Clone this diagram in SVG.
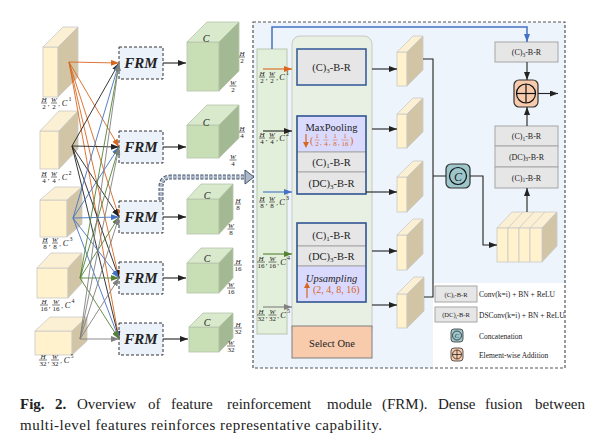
<svg xmlns="http://www.w3.org/2000/svg" width="599" height="440" viewBox="0 0 599 440">
<style>
text{font-family:"Liberation Serif","Times New Roman",serif;fill:#222}
.fr{font-size:7px;font-style:italic;text-anchor:middle}
.frn{font-size:7px;text-anchor:middle}
.cc{font-size:8.5px;font-style:italic;text-anchor:middle}
.sup{font-size:6px;text-anchor:middle}
.gc{font-size:10px;font-style:italic;text-anchor:middle}
.bar{stroke:#222;stroke-width:0.6}
.bfront{fill:#FFF2CC;stroke:#C9C9C9;stroke-width:0.8}
.btop{fill:#FCF0D4;stroke:#C9C9C9;stroke-width:0.8}
.bside{fill:#D1C5A5;stroke:#C9C9C9;stroke-width:0.8}
.gfront{fill:#C8DFB6;stroke:#B5C4AA;stroke-width:0.8}
.gtop{fill:#D8E9CC;stroke:#B5C4AA;stroke-width:0.8}
.gside{fill:#A3B993;stroke:#B5C4AA;stroke-width:0.8}
.frm{fill:#EBF2FA;stroke:#333;stroke-width:1;stroke-dasharray:3,2}
.frmt{font-size:15px;font-weight:bold;font-style:italic;text-anchor:middle}
.box{fill:#E7E6E6;stroke:#A6A6A6;stroke-width:1}
.lav{fill:#DADAFE;stroke:#A6A6A6;stroke-width:1}
.bt{font-size:10.5px;text-anchor:middle}
.st{font-size:8px;text-anchor:middle}
.lt{font-size:7.5px}
.of{font-size:7px;text-anchor:middle;fill:#D9661F}
.or{fill:#D9661F}
</style>
<defs>
<marker id="mk" markerUnits="userSpaceOnUse" markerWidth="8" markerHeight="6" refX="8" refY="3" orient="auto"><path d="M0,0 L8,3 L0,6 z" fill="#222"/></marker>
<marker id="mo" markerUnits="userSpaceOnUse" markerWidth="8" markerHeight="6" refX="8" refY="3" orient="auto"><path d="M0,0 L8,3 L0,6 z" fill="#D9661F"/></marker>
<marker id="mb" markerUnits="userSpaceOnUse" markerWidth="8" markerHeight="6" refX="8" refY="3" orient="auto"><path d="M0,0 L8,3 L0,6 z" fill="#4472C4"/></marker>
<marker id="mg" markerUnits="userSpaceOnUse" markerWidth="8" markerHeight="6" refX="8" refY="3" orient="auto"><path d="M0,0 L8,3 L0,6 z" fill="#548235"/></marker>
<marker id="my" markerUnits="userSpaceOnUse" markerWidth="8" markerHeight="6" refX="8" refY="3" orient="auto"><path d="M0,0 L8,3 L0,6 z" fill="#808080"/></marker>
</defs>
<rect width="599" height="440" fill="#fff"/>

<g id="module-box">
<rect x="253" y="22" width="312" height="346" fill="#EEF4FB"/>
<rect x="433" y="283" width="132" height="85" fill="#fff"/>
<rect x="253" y="22" width="312" height="346" fill="none" stroke="#555" stroke-width="1.2" stroke-dasharray="3,2"/>
</g>

<g id="in1">
<rect class="bfront" x="43" y="47" width="15" height="50"/>
<polygon class="btop" points="43,47 63,27 78,27 58,47"/>
<polygon class="bside" points="58,47 78,27 78,77 58,97"/>
<g transform="translate(44,103)"><text class="fr" y="-1.5">H</text><line class="bar" x1="-3" x2="3"/><text class="frn" y="5.8">2</text><text class="frn" x="4.5" y="3">,</text><text class="fr" x="10" y="-1.5">W</text><line class="bar" x1="7" x2="13"/><text class="frn" x="10" y="5.8">2</text><text class="frn" x="15" y="3">,</text><text class="cc" x="20.5" y="3">C</text><text class="sup" x="26" y="-2">1</text></g>
</g>
<g id="in2">
<rect class="bfront" x="40" y="131" width="19" height="38"/>
<polygon class="btop" points="40,131 59,111 78,111 59,131"/>
<polygon class="bside" points="59,131 78,111 78,149 59,169"/>
<g transform="translate(44,177)"><text class="fr" y="-1.5">H</text><line class="bar" x1="-3" x2="3"/><text class="frn" y="5.8">4</text><text class="frn" x="4.5" y="3">,</text><text class="fr" x="10" y="-1.5">W</text><line class="bar" x1="7" x2="13"/><text class="frn" x="10" y="5.8">4</text><text class="frn" x="15" y="3">,</text><text class="cc" x="20.5" y="3">C</text><text class="sup" x="26" y="-2">2</text></g>
</g>
<g id="in3">
<rect class="bfront" x="40" y="200" width="27" height="37"/>
<polygon class="btop" points="40,200 55,187 82,187 67,200"/>
<polygon class="bside" points="67,200 82,187 82,224 67,237"/>
<g transform="translate(45,243)"><text class="fr" y="-1.5">H</text><line class="bar" x1="-3" x2="3"/><text class="frn" y="5.8">8</text><text class="frn" x="4.5" y="3">,</text><text class="fr" x="10" y="-1.5">W</text><line class="bar" x1="7" x2="13"/><text class="frn" x="10" y="5.8">8</text><text class="frn" x="15" y="3">,</text><text class="cc" x="20.5" y="3">C</text><text class="sup" x="26" y="-2">3</text></g>
</g>
<g id="in4">
<rect class="bfront" x="37" y="268" width="31" height="30"/>
<polygon class="btop" points="37,268 51,253 82,253 68,268"/>
<polygon class="bside" points="68,268 82,253 82,283 68,298"/>
<g transform="translate(44,305)"><text class="fr" y="-1.5">H</text><line class="bar" x1="-4" x2="4"/><text class="frn" y="5.8">16</text><text class="frn" x="5.5" y="3">,</text><text class="fr" x="12" y="-1.5">W</text><line class="bar" x1="8" x2="16"/><text class="frn" x="12" y="5.8">16</text><text class="frn" x="18" y="3">,</text><text class="cc" x="23.5" y="3">C</text><text class="sup" x="29" y="-2">4</text></g>
</g>
<g id="in5">
<rect class="bfront" x="35" y="331" width="37" height="24"/>
<polygon class="btop" points="35,331 50,317 87,317 72,331"/>
<polygon class="bside" points="72,331 87,317 87,341 72,355"/>
<g transform="translate(43,360)"><text class="fr" y="-1.5">H</text><line class="bar" x1="-4" x2="4"/><text class="frn" y="5.8">32</text><text class="frn" x="5.5" y="3">,</text><text class="fr" x="12" y="-1.5">W</text><line class="bar" x1="8" x2="16"/><text class="frn" x="12" y="5.8">32</text><text class="frn" x="18" y="3">,</text><text class="cc" x="23.5" y="3">C</text><text class="sup" x="29" y="-2">5</text></g>
</g>

<g id="frm1"><rect class="frm" x="119" y="47" width="44" height="32"/><text class="frmt" x="141" y="68">FRM</text></g>
<g id="frm2"><rect class="frm" x="119" y="131" width="44" height="32"/><text class="frmt" x="141" y="152">FRM</text></g>
<g id="frm3"><rect class="frm" x="119" y="201" width="44" height="32"/><text class="frmt" x="141" y="222">FRM</text></g>
<g id="frm4"><rect class="frm" x="119" y="262" width="44" height="32"/><text class="frmt" x="141" y="283">FRM</text></g>
<g id="frm5"><rect class="frm" x="119" y="323" width="44" height="32"/><text class="frmt" x="141" y="344">FRM</text></g>

<g id="out1">
<rect class="gfront" x="187" y="42" width="32" height="49"/>
<polygon class="gtop" points="187,42 207,22 239,22 219,42"/>
<polygon class="gside" points="219,42 239,22 239,71 219,91"/>
<text class="gc" x="206" y="42">C</text>
<g transform="translate(242,57)"><text class="fr" y="-1.5">H</text><line class="bar" x1="-3" x2="3"/><text class="frn" y="5.8">2</text></g>
<g transform="translate(233,86)"><text class="fr" y="-1.5">W</text><line class="bar" x1="-3.5" x2="3.5"/><text class="frn" y="5.8">2</text></g>
</g>
<g id="out2">
<rect class="gfront" x="187" y="125" width="32" height="33"/>
<polygon class="gtop" points="187,125 207,105 239,105 219,125"/>
<polygon class="gside" points="219,125 239,105 239,138 219,158"/>
<text class="gc" x="206" y="126">C</text>
<g transform="translate(242,132)"><text class="fr" y="-1.5">H</text><line class="bar" x1="-3" x2="3"/><text class="frn" y="5.8">4</text></g>
<g transform="translate(233,160)"><text class="fr" y="-1.5">W</text><line class="bar" x1="-3.5" x2="3.5"/><text class="frn" y="5.8">4</text></g>
</g>
<g id="out3">
<rect class="gfront" x="187" y="199" width="32" height="35"/>
<polygon class="gtop" points="187,199 201,184 233,184 219,199"/>
<polygon class="gside" points="219,199 233,184 233,219 219,234"/>
<text class="gc" x="207" y="199">C</text>
<g transform="translate(238,204)"><text class="fr" y="-1.5">H</text><line class="bar" x1="-3" x2="3"/><text class="frn" y="5.8">8</text></g>
<g transform="translate(231,229)"><text class="fr" y="-1.5">W</text><line class="bar" x1="-3.5" x2="3.5"/><text class="frn" y="5.8">8</text></g>
</g>
<g id="out4">
<rect class="gfront" x="187" y="263" width="32" height="30"/>
<polygon class="gtop" points="187,263 201,248 233,248 219,263"/>
<polygon class="gside" points="219,263 233,248 233,278 219,293"/>
<text class="gc" x="207" y="262">C</text>
<g transform="translate(238,265)"><text class="fr" y="-1.5">H</text><line class="bar" x1="-4" x2="4"/><text class="frn" y="5.8">16</text></g>
<g transform="translate(231,288)"><text class="fr" y="-1.5">W</text><line class="bar" x1="-4" x2="4"/><text class="frn" y="5.8">16</text></g>
</g>
<g id="out5">
<rect class="gfront" x="189" y="327" width="30" height="25"/>
<polygon class="gtop" points="189,327 203,313 233,313 219,327"/>
<polygon class="gside" points="219,327 233,313 233,338 219,352"/>
<text class="gc" x="207" y="326">C</text>
<g transform="translate(238,328)"><text class="fr" y="-1.5">H</text><line class="bar" x1="-4" x2="4"/><text class="frn" y="5.8">32</text></g>
<g transform="translate(231,346)"><text class="fr" y="-1.5">W</text><line class="bar" x1="-4" x2="4"/><text class="frn" y="5.8">32</text></g>
</g>

<g id="input-column">
<rect x="257" y="49" width="30" height="285" fill="#E2EFDA" stroke="#B8C6B0" stroke-width="1"/>
<g transform="translate(262,77)"><text class="fr" y="-1.5">H</text><line class="bar" x1="-3" x2="3"/><text class="frn" y="5.8">2</text><text class="frn" x="4.5" y="3">,</text><text class="fr" x="10" y="-1.5">W</text><line class="bar" x1="7" x2="13"/><text class="frn" x="10" y="5.8">2</text><text class="frn" x="15" y="3">,</text><text class="cc" x="20" y="3">C</text><text class="sup" x="25.5" y="-2">1</text></g>
<g transform="translate(262,138)"><text class="fr" y="-1.5">H</text><line class="bar" x1="-3" x2="3"/><text class="frn" y="5.8">4</text><text class="frn" x="4.5" y="3">,</text><text class="fr" x="10" y="-1.5">W</text><line class="bar" x1="7" x2="13"/><text class="frn" x="10" y="5.8">4</text><text class="frn" x="15" y="3">,</text><text class="cc" x="20" y="3">C</text><text class="sup" x="25.5" y="-2">2</text></g>
<g transform="translate(262,202)"><text class="fr" y="-1.5">H</text><line class="bar" x1="-3" x2="3"/><text class="frn" y="5.8">8</text><text class="frn" x="4.5" y="3">,</text><text class="fr" x="10" y="-1.5">W</text><line class="bar" x1="7" x2="13"/><text class="frn" x="10" y="5.8">8</text><text class="frn" x="15" y="3">,</text><text class="cc" x="20" y="3">C</text><text class="sup" x="25.5" y="-2">3</text></g>
<g transform="translate(261,262)"><text class="fr" y="-1.5">H</text><line class="bar" x1="-4" x2="4"/><text class="frn" y="5.8">16</text><text class="frn" x="5.5" y="3">,</text><text class="fr" x="11.5" y="-1.5">W</text><line class="bar" x1="7.5" x2="15.5"/><text class="frn" x="11.5" y="5.8">16</text><text class="frn" x="17" y="3">,</text><text class="cc" x="22" y="3">C</text><text class="sup" x="27.5" y="-2">4</text></g>
<g transform="translate(261,315)"><text class="fr" y="-1.5">H</text><line class="bar" x1="-4" x2="4"/><text class="frn" y="5.8">32</text><text class="frn" x="5.5" y="3">,</text><text class="fr" x="11.5" y="-1.5">W</text><line class="bar" x1="7.5" x2="15.5"/><text class="frn" x="11.5" y="5.8">32</text><text class="frn" x="17" y="3">,</text><text class="cc" x="22" y="3">C</text><text class="sup" x="27.5" y="-2">5</text></g>
</g>

<g id="branch-panel">
<rect x="292" y="36" width="80" height="300" rx="8" fill="#E8F0E3" stroke="#C8C8C8" stroke-width="1"/>
</g>
<g id="select-one">
<rect x="292" y="326" width="80" height="32" fill="#F8CBAD" stroke="#7F7F7F" stroke-width="1"/>
<text class="bt" x="332" y="346.5">Select One</text>
</g>
<g id="branch-a">
<rect x="297" y="49" width="69" height="36" fill="#E7E6E6" stroke="#2F5597" stroke-width="1.5"/>
<text class="bt" x="331.5" y="71">(C)<tspan font-size="7" dy="2">3</tspan><tspan dy="-2">-B-R</tspan></text>
</g>
<g id="branch-b">
<rect class="lav" x="297" y="116" width="69" height="36"/>
<rect class="box" x="297" y="152" width="69" height="20"/>
<rect class="box" x="297" y="172" width="69" height="22"/>
<rect x="297" y="116" width="69" height="78" fill="none" stroke="#2F5597" stroke-width="1.5"/>
<text class="bt" x="331.5" y="130.5">MaxPooling</text>
<line x1="306" y1="134" x2="306" y2="143" stroke="#D9661F" stroke-width="1.2"/>
<path d="M303,142 L306,148 L309,142 z" class="or"/>
<text class="or" x="310" y="144" style="font-size:10px">(</text>
<text class="of" x="317" y="138.3">1</text><line x1="314.5" x2="319.5" y1="140" y2="140" stroke="#D9661F" stroke-width="0.5"/><text class="of" x="317" y="146.3">2</text>
<text class="or" x="320" y="145" style="font-size:7px">,</text>
<text class="of" x="326" y="138.3">1</text><line x1="323.5" x2="328.5" y1="140" y2="140" stroke="#D9661F" stroke-width="0.5"/><text class="of" x="326" y="146.3">4</text>
<text class="or" x="329" y="145" style="font-size:7px">,</text>
<text class="of" x="335" y="138.3">1</text><line x1="332.5" x2="337.5" y1="140" y2="140" stroke="#D9661F" stroke-width="0.5"/><text class="of" x="335" y="146.3">8</text>
<text class="or" x="338" y="145" style="font-size:7px">,</text>
<text class="of" x="345" y="138.3">1</text><line x1="341.5" x2="348.5" y1="140" y2="140" stroke="#D9661F" stroke-width="0.5"/><text class="of" x="345" y="146.3">16</text>
<text class="or" x="350" y="144" style="font-size:10px">)</text>
<text class="bt" x="331.5" y="166">(C)<tspan font-size="7" dy="2">1</tspan><tspan dy="-2">-B-R</tspan></text>
<text class="bt" x="331.5" y="187">(DC)<tspan font-size="7" dy="2">3</tspan><tspan dy="-2">-B-R</tspan></text>
</g>
<g id="branch-c">
<rect class="box" x="297" y="223" width="69" height="23"/>
<rect class="box" x="297" y="246" width="69" height="20"/>
<rect class="lav" x="297" y="266" width="69" height="36"/>
<rect x="297" y="223" width="69" height="79" fill="none" stroke="#2F5597" stroke-width="1.5"/>
<text class="bt" x="331.5" y="238.5">(C)<tspan font-size="7" dy="2">1</tspan><tspan dy="-2">-B-R</tspan></text>
<text class="bt" x="331.5" y="260">(DC)<tspan font-size="7" dy="2">3</tspan><tspan dy="-2">-B-R</tspan></text>
<text class="bt" x="331.5" y="282" font-style="italic">Upsampling</text>
<line x1="307" y1="298" x2="307" y2="287" stroke="#D9661F" stroke-width="1.2"/>
<path d="M304,288 L307,282 L310,288 z" class="or"/>
<text class="or" x="313" y="292.5" style="font-size:10px">(2, 4, 8, 16)</text>
</g>

<g id="f1"><rect class="bfront" x="397" y="52" width="10" height="34"/><polygon class="btop" points="397,52 413,36 423,36 407,52"/><polygon class="bside" points="407,52 423,36 423,70 407,86"/></g>
<g id="f2"><rect class="bfront" x="397" y="114" width="10" height="34"/><polygon class="btop" points="397,114 413,98 423,98 407,114"/><polygon class="bside" points="407,114 423,98 423,132 407,148"/></g>
<g id="f3"><rect class="bfront" x="397" y="177" width="10" height="35"/><polygon class="btop" points="397,177 413,161 423,161 407,177"/><polygon class="bside" points="407,177 423,161 423,196 407,212"/></g>
<g id="f4"><rect class="bfront" x="397" y="235" width="10" height="35"/><polygon class="btop" points="397,235 413,219 423,219 407,235"/><polygon class="bside" points="407,235 423,219 423,254 407,270"/></g>
<g id="f5"><rect class="bfront" x="397" y="294" width="10" height="34"/><polygon class="btop" points="397,294 414,277 424,277 407,294"/><polygon class="bside" points="407,294 424,277 424,311 407,328"/></g>

<g id="concat">
<rect x="446" y="164" width="24" height="24" rx="5" fill="#9DC6CB" stroke="#333" stroke-width="1.2"/>
<circle cx="458" cy="176" r="8.5" fill="none" stroke="#111" stroke-width="1.2"/>
<text x="458" y="180.5" style="font-size:12px;font-style:italic" text-anchor="middle">C</text>
</g>

<g id="stack">
<polygon class="btop" points="497,228 512,212 557,212 542,228"/>
<line x1="508" y1="228" x2="523" y2="212" stroke="#C9C9C9" stroke-width="0.8"/>
<line x1="519" y1="228" x2="534" y2="212" stroke="#C9C9C9" stroke-width="0.8"/>
<line x1="530" y1="228" x2="545" y2="212" stroke="#C9C9C9" stroke-width="0.8"/>
<polygon class="bside" points="542,228 557,212 557,246 542,262"/>
<rect class="bfront" x="497" y="228" width="11" height="34"/>
<rect class="bfront" x="508" y="228" width="11" height="34"/>
<rect class="bfront" x="519" y="228" width="11" height="34"/>
<rect class="bfront" x="530" y="228" width="12" height="34"/>
</g>

<g id="conv-stack">
<rect class="box" x="495" y="126" width="63" height="20"/>
<rect class="box" x="495" y="146" width="63" height="21"/>
<rect class="box" x="495" y="167" width="63" height="21"/>
<text class="st" x="526.5" y="139">(C)<tspan font-size="5.5" dy="1.5">1</tspan><tspan dy="-1.5">-B-R</tspan></text>
<text class="st" x="526.5" y="159.5">(DC)<tspan font-size="5.5" dy="1.5">3</tspan><tspan dy="-1.5">-B-R</tspan></text>
<text class="st" x="526.5" y="180.5">(C)<tspan font-size="5.5" dy="1.5">1</tspan><tspan dy="-1.5">-B-R</tspan></text>
</g>
<g id="conv-top">
<rect class="box" x="495" y="42" width="63" height="20"/>
<text class="st" x="526.5" y="55">(C)<tspan font-size="5.5" dy="1.5">3</tspan><tspan dy="-1.5">-B-R</tspan></text>
</g>
<g id="add">
<rect x="514" y="80" width="24" height="27" rx="5" fill="#F8CBAD" stroke="#333" stroke-width="1.2"/>
<circle cx="526" cy="93.5" r="9.5" fill="none" stroke="#111" stroke-width="1.2"/>
<line x1="516.5" y1="93.5" x2="535.5" y2="93.5" stroke="#111" stroke-width="1.2"/>
<line x1="526" y1="84" x2="526" y2="103" stroke="#111" stroke-width="1.2"/>
</g>

<g id="legend">
<rect class="box" x="435" y="286" width="42" height="16"/>
<text x="456" y="296.5" style="font-size:6.5px" text-anchor="middle">(C)<tspan font-size="4.5" dy="1.5">i</tspan><tspan dy="-1.5">-B-R</tspan></text>
<text class="lt" x="479" y="297">Conv(k=i) + BN + ReLU</text>
<rect class="box" x="435" y="307" width="42" height="15"/>
<text x="456" y="317" style="font-size:6.5px" text-anchor="middle">(DC)<tspan font-size="4.5" dy="1.5">i</tspan><tspan dy="-1.5">-B-R</tspan></text>
<text class="lt" x="479" y="318">DSConv(k=i) + BN + ReLU</text>
<rect x="451" y="329" width="12" height="13" rx="3" fill="#9DC6CB" stroke="#333" stroke-width="0.8"/>
<circle cx="457" cy="335.5" r="4.5" fill="none" stroke="#111" stroke-width="0.7"/>
<text x="457" y="338" style="font-size:6.5px;font-style:italic" text-anchor="middle">C</text>
<text class="lt" x="479" y="339">Concatenation</text>
<rect x="451" y="348" width="12" height="13" rx="3" fill="#F8CBAD" stroke="#333" stroke-width="0.8"/>
<circle cx="457" cy="354.5" r="4.5" fill="none" stroke="#111" stroke-width="0.7"/>
<line x1="452.5" y1="354.5" x2="461.5" y2="354.5" stroke="#111" stroke-width="0.7"/>
<line x1="457" y1="350" x2="457" y2="359" stroke="#111" stroke-width="0.7"/>
<text class="lt" x="479" y="358">Element-wise Addition</text>
</g>

<g id="connectors" fill="none" stroke-width="0.9">
<g stroke="#D9661F" marker-end="url(#mo)">
<line x1="69" y1="62" x2="119" y2="63"/><line x1="69" y1="62" x2="119" y2="147"/><line x1="69" y1="62" x2="119" y2="217"/><line x1="69" y1="62" x2="119" y2="278"/><line x1="69" y1="62" x2="119" y2="339"/>
</g>
<g stroke="#222" marker-end="url(#mk)">
<line x1="72" y1="146" x2="119" y2="63"/><line x1="72" y1="146" x2="119" y2="147"/><line x1="72" y1="146" x2="119" y2="217"/><line x1="72" y1="146" x2="119" y2="278"/><line x1="72" y1="146" x2="119" y2="339"/>
</g>
<g stroke="#4472C4" marker-end="url(#mb)">
<line x1="73" y1="218" x2="119" y2="63"/><line x1="73" y1="218" x2="119" y2="147"/><line x1="73" y1="218" x2="119" y2="217"/><line x1="73" y1="218" x2="119" y2="278"/><line x1="73" y1="218" x2="119" y2="339"/>
</g>
<g stroke="#548235" marker-end="url(#mg)">
<line x1="80" y1="278" x2="119" y2="63"/><line x1="80" y1="278" x2="119" y2="147"/><line x1="80" y1="278" x2="119" y2="217"/><line x1="80" y1="278" x2="119" y2="278"/><line x1="80" y1="278" x2="119" y2="339"/>
</g>
<g stroke="#808080" marker-end="url(#my)">
<line x1="80" y1="339" x2="119" y2="63"/><line x1="80" y1="339" x2="119" y2="147"/><line x1="80" y1="339" x2="119" y2="217"/><line x1="80" y1="339" x2="119" y2="278"/><line x1="80" y1="339" x2="119" y2="339"/>
</g>
<g stroke="#333" stroke-width="1.2" marker-end="url(#mk)">
<line x1="163" y1="63" x2="186" y2="63"/><line x1="163" y1="147" x2="186" y2="147"/><line x1="163" y1="217" x2="186" y2="217"/><line x1="163" y1="278" x2="186" y2="278"/><line x1="163" y1="339" x2="188" y2="339"/>
</g>
<path d="M161,200 L161,187 Q161,177 171,177 L246,177" stroke="#44546A" stroke-width="5" stroke-dasharray="3,1.5"/>
<path d="M161,200 L161,187 Q161,177 171,177 L246,177" stroke="#ADB9CA" stroke-width="3" stroke-dasharray="3,1.5"/>
<polygon points="245,170 254,177 245,184" fill="#ADB9CA" stroke="#44546A" stroke-width="1"/>
<line x1="263" y1="69" x2="292" y2="69" stroke="#D9661F" stroke-width="1.1" marker-end="url(#mo)"/>
<line x1="263" y1="131" x2="292" y2="131" stroke="#222" stroke-width="1.1" marker-end="url(#mk)"/>
<line x1="263" y1="192" x2="292" y2="192" stroke="#4472C4" stroke-width="1.1" marker-end="url(#mb)"/>
<line x1="263" y1="254" x2="292" y2="254" stroke="#548235" stroke-width="1.1" marker-end="url(#mg)"/>
<line x1="263" y1="307" x2="292" y2="307" stroke="#808080" stroke-width="1.1" marker-end="url(#my)"/>
<path d="M272,49 L272,27 L527,27 L527,42" stroke="#4472C4" stroke-width="1.5" marker-end="url(#mb)"/>
<g stroke="#222" stroke-width="1.1" marker-end="url(#mk)">
<line x1="372" y1="69" x2="397" y2="69"/><line x1="372" y1="129" x2="397" y2="129"/><line x1="366" y1="192" x2="397" y2="192"/><line x1="372" y1="251" x2="397" y2="251"/><line x1="372" y1="305" x2="397" y2="305"/>
</g>
<path d="M423,59 L433,59 L433,297 L424,297 M433,176 L446,176" stroke="#222" stroke-width="1.1"/>
<path d="M470,176 L483,176 L483,245 L497,245" stroke="#222" stroke-width="1.1" marker-end="url(#mk)"/>
<line x1="527" y1="212" x2="527" y2="188" stroke="#222" stroke-width="1.1" marker-end="url(#mk)"/>
<line x1="527" y1="126" x2="527" y2="107" stroke="#222" stroke-width="1.1" marker-end="url(#mk)"/>
<line x1="527" y1="62" x2="527" y2="80" stroke="#222" stroke-width="1.1" marker-end="url(#mk)"/>
<line x1="538" y1="93.5" x2="558" y2="93.5" stroke="#222" stroke-width="1.1" marker-end="url(#mk)"/>
</g>

<g id="caption" style="font-size:15px">
<text x="20" y="409" font-weight="bold">Fig.</text>
<text x="55" y="409" font-weight="bold">2.</text>
<text x="77" y="409">Overview</text>
<text x="148" y="409">of</text>
<text x="171" y="409">feature</text>
<text x="227" y="409">reinforcement</text>
<text x="327" y="409">module</text>
<text x="382" y="409">(FRM).</text>
<text x="438" y="409">Dense</text>
<text x="485" y="409">fusion</text>
<text x="535" y="409">between</text>
<text x="20" y="430" textLength="362" lengthAdjust="spacing">multi-level features reinforces representative capability.</text>
</g>
</svg>
